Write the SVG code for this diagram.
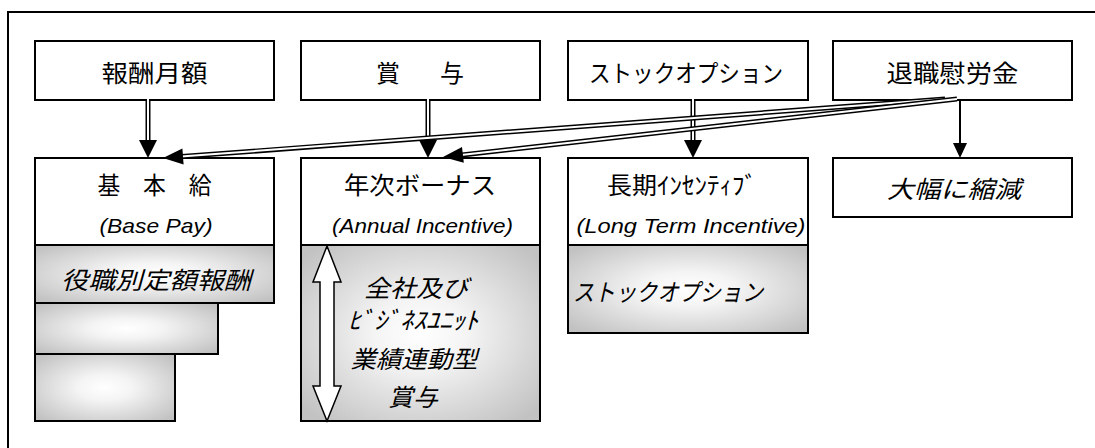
<svg xmlns="http://www.w3.org/2000/svg" width="1095" height="448" viewBox="0 0 1095 448">
<defs>
<radialGradient id="g" cx="50%" cy="50%" r="65%">
<stop offset="0" stop-color="#ffffff"/>
<stop offset="0.3" stop-color="#f4f4f4"/>
<stop offset="1" stop-color="#c2c2c2"/>
</radialGradient>
<style>
.b{fill:#fff;stroke:#000;stroke-width:2}
.s{fill:url(#g);stroke:#000;stroke-width:2}
.t{font-family:"Noto Sans CJK JP","Noto Sans",sans-serif;font-size:24px;fill:#000;text-anchor:middle;dominant-baseline:central}
.i{font-style:italic}
.e{font-family:"Liberation Sans","Noto Sans CJK JP",sans-serif;font-size:21px;font-style:italic;fill:#000;text-anchor:middle}
.dk{fill:none;stroke:#000;stroke-width:5}
.dw{fill:none;stroke:#fff;stroke-width:2}
.sl{fill:none;stroke:#000;stroke-width:2}
.ah{fill:#000}
</style>
</defs>
<rect width="1095" height="448" fill="#fff"/>
<path d="M8,448 V12 H1095" fill="none" stroke="#000" stroke-width="2"/>

<g id="n-housyu">
<rect class="b" x="35" y="41" width="239" height="59"/>
<text class="t" x="154.5" y="71" textLength="106" lengthAdjust="spacingAndGlyphs">報酬月額</text>
</g>
<g id="n-shoyo">
<rect class="b" x="301" y="41" width="239" height="59"/>
<text class="t" x="420" y="71" textLength="88" lengthAdjust="spacing">賞　　与</text>
</g>
<g id="n-stock">
<rect class="b" x="568" y="41" width="240" height="59"/>
<text class="t" x="686" y="71" textLength="194" lengthAdjust="spacingAndGlyphs">ストックオプション</text>
</g>
<g id="n-taishoku">
<rect class="b" x="833" y="41" width="239" height="59"/>
<text class="t" x="952.5" y="71" textLength="132" lengthAdjust="spacingAndGlyphs">退職慰労金</text>
</g>

<g id="n-kihonkyu">
<rect class="b" x="35" y="158" width="239" height="87"/>
<text class="t" x="154.5" y="183" textLength="114" lengthAdjust="spacingAndGlyphs">基　本　給</text>
<text class="e" x="156" y="233" textLength="113" lengthAdjust="spacingAndGlyphs">(Base Pay)</text>
<rect class="s" x="35" y="354" width="140" height="67"/>
<rect class="s" x="35" y="303" width="183" height="51"/>
<rect class="s" x="35" y="245" width="239" height="58"/>
<text class="t i" x="156" y="278" textLength="190" lengthAdjust="spacingAndGlyphs">役職別定額報酬</text>
</g>

<g id="n-bonus">
<rect class="b" x="301" y="158" width="239" height="87"/>
<text class="t" x="420" y="183" textLength="152" lengthAdjust="spacingAndGlyphs">年次ボーナス</text>
<text class="e" x="422.5" y="233" textLength="181" lengthAdjust="spacingAndGlyphs">(Annual Incentive)</text>
<rect class="s" x="301" y="245" width="239" height="176"/>
<polygon points="327,246 341,282 334,282 334,386 341,386 327,421 313,386 320,386 320,282 313,282" fill="#fff" stroke="#000" stroke-width="1.5" stroke-linejoin="miter"/>
<text class="t i" x="416" y="286" textLength="104" lengthAdjust="spacingAndGlyphs">全社及び</text>
<text class="t i" x="413" y="318" textLength="130" lengthAdjust="spacingAndGlyphs">ﾋﾞｼﾞﾈｽﾕﾆｯﾄ</text>
<text class="t i" x="414" y="357" textLength="127" lengthAdjust="spacingAndGlyphs">業績連動型</text>
<text class="t i" x="413" y="395" textLength="50" lengthAdjust="spacingAndGlyphs">賞与</text>
</g>

<g id="n-lti">
<rect class="b" x="568" y="158" width="240" height="87"/>
<text class="t" x="682" y="183" textLength="150" lengthAdjust="spacingAndGlyphs">長期ｲﾝｾﾝﾃｨﾌﾞ</text>
<text class="e" x="691" y="233" textLength="229" lengthAdjust="spacingAndGlyphs">(Long Term Incentive)</text>
<rect class="s" x="568" y="245" width="240" height="88"/>
<text class="t i" x="668" y="290" textLength="190" lengthAdjust="spacingAndGlyphs">ストックオプション</text>
</g>

<g id="n-shukugen">
<rect class="b" x="833" y="158" width="239" height="59"/>
<text class="t i" x="954" y="187" textLength="134" lengthAdjust="spacingAndGlyphs">大幅に縮減</text>
</g>

<g id="connectors">
<path class="dk" d="M148,100 V141"/>
<path class="dw" d="M148,99 V142"/>
<polygon class="ah" points="139,140 157,140 148,158"/>
<path class="dk" d="M428,100 V141"/>
<path class="dw" d="M428,99 V142"/>
<polygon class="ah" points="419,140 437,140 428,158"/>
<path class="dk" d="M693,100 V141"/>
<path class="dw" d="M693,99 V142"/>
<polygon class="ah" points="684,140 702,140 693,158"/>
<path class="sl" d="M960,99 V144"/>
<polygon class="ah" points="953,143 967,143 960,158"/>
<path class="dk" d="M945,99 L182,156.6"/>
<path class="dw" d="M945,99 L181,156.6"/>
<polygon class="ah" points="163,158 183.6,164.5 182.4,148.5"/>
<path class="dk" d="M957,99 L462,154.9"/>
<path class="dw" d="M957,99 L461,155"/>
<polygon class="ah" points="443,157 463.8,162.7 462,146.9"/>
</g>
</svg>
